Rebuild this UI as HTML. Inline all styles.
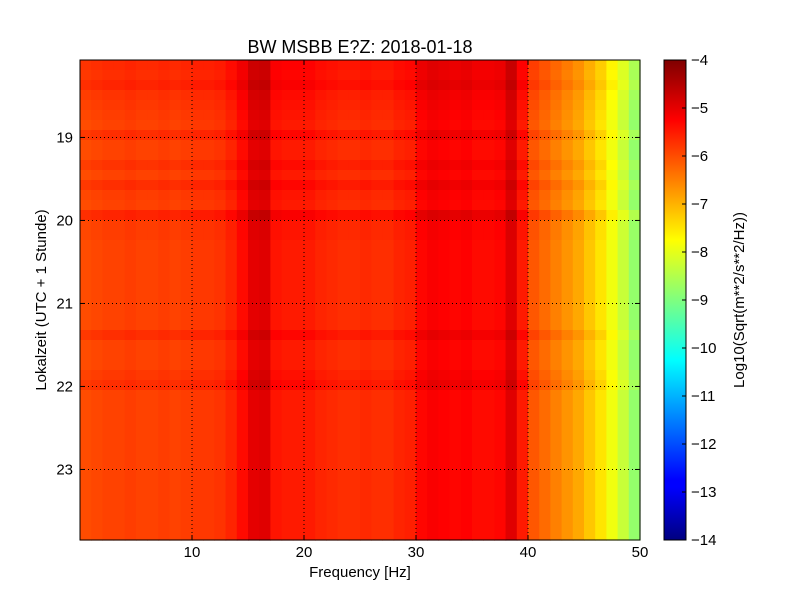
<!DOCTYPE html>
<html><head><meta charset="utf-8"><style>
body{margin:0;background:#fff}
svg{display:block;font-family:"Liberation Sans",sans-serif}
</style></head><body>
<svg id="c" width="800" height="600" xmlns="http://www.w3.org/2000/svg">
<rect width="800" height="600" fill="#fff"/>
<text x="360" y="53" font-size="18" text-anchor="middle">BW MSBB E?Z: 2018-01-18</text>
<g id="cells"></g>
<g id="grid"></g>
<rect x="80" y="60" width="560" height="480" fill="none" stroke="#000"/>
<g id="xt"></g>
<g id="yt"></g>
<text x="360" y="577" font-size="15" text-anchor="middle">Frequency [Hz]</text>
<text transform="translate(46,300) rotate(-90)" font-size="15" text-anchor="middle">Lokalzeit (UTC + 1 Stunde)</text>
<defs><linearGradient id="jet" x1="0" y1="1" x2="0" y2="0">
<stop offset="0" stop-color="#00007f"/><stop offset="0.11" stop-color="#0000ff"/><stop offset="0.125" stop-color="#0000ff"/>
<stop offset="0.375" stop-color="#00ffff"/><stop offset="0.5" stop-color="#7fff7f"/><stop offset="0.625" stop-color="#ffff00"/>
<stop offset="0.875" stop-color="#ff0000"/><stop offset="1" stop-color="#7f0000"/></linearGradient></defs>
<rect x="664" y="60" width="22" height="480" fill="url(#jet)" stroke="#000"/>
<g id="ct"></g>
<text transform="translate(744,300) rotate(-90)" font-size="15" text-anchor="middle">Log10(Sqrt(m**2/s**2/Hz))</text>
</svg>
<script>
const freqProfile=[-6.0,-5.95,-5.9,-5.9,-5.85,-5.9,-5.9,-5.85,-5.9,-5.85,-5.8,-5.8,-5.75,-5.6,-5.35,-5.0,-4.95,-5.45,-5.5,-5.5,-5.5,-5.6,-5.65,-5.7,-5.7,-5.65,-5.7,-5.7,-5.6,-5.55,-5.3,-5.2,-5.25,-5.3,-5.25,-5.35,-5.35,-5.3,-4.95,-5.5,-6.1,-6.3,-6.5,-6.7,-6.9,-7.2,-7.5,-7.9,-8.3,-8.8];
const rowOffset=[0.25,0.2,0.3,0.15,0.1,0.05,0,0.2,0,0,0.15,0,0.2,0.05,0,0.3,0.05,0.05,0,0,0,0,0,0,0,0,0,0.2,0,0,0,0.1,0.2,0,0,0,0,0,0,0,0,0,0,0,0,0,0,0];
const xTicks=[10,20,30,40,50];
const yTicks=[19,20,21,22,23];
const cTicks=[-4,-5,-6,-7,-8,-9,-10,-11,-12,-13,-14];
const NS='http://www.w3.org/2000/svg';
const x0=80,x1=640,y0=60,y1=540;
const tStart=18.067,tEnd=23.85;
const xs=f=>x0+(f/50)*(x1-x0);
const ys=t=>y0+(t-tStart)/(tEnd-tStart)*(y1-y0);
const cs=v=>y0+(-4-v)/10*(y1-y0);
function jet(v){let n=Math.max(0,Math.min(1,(v+14)/10));
 const c=x=>Math.max(0,Math.min(1,x));
 const r=c(Math.min(4*n-1.5,-4*n+4.5)),g=c(Math.min(4*n-0.5,-4*n+3.5)),b=c(Math.min(4*n+0.5,-4*n+2.5));
 return `rgb(${Math.round(r*255)},${Math.round(g*255)},${Math.round(b*255)})`;}
function el(tag,a,p){const e=document.createElementNS(NS,tag);for(const k in a)e.setAttribute(k,a[k]);p.appendChild(e);return e;}
const cells=document.getElementById('cells');
const rh=(y1-y0)/rowOffset.length, cw=(x1-x0)/freqProfile.length;
rowOffset.forEach((o,r)=>{freqProfile.forEach((v,i)=>{
 const e=el('rect',{x:(xs(i*50/freqProfile.length)).toFixed(2),y:(y0+r*rh).toFixed(2),width:(cw+0.6).toFixed(2),height:(rh+0.6).toFixed(2),fill:jet(v+o)},cells);
 
 
});});
const grid=document.getElementById('grid'),xt=document.getElementById('xt'),yt=document.getElementById('yt'),ct=document.getElementById('ct');
xTicks.forEach(f=>{const x=xs(f);
 el('line',{x1:x,x2:x,y1:y0,y2:y1,stroke:'#000','stroke-dasharray':'1,3','stroke-width':1},grid);
 el('line',{x1:x,x2:x,y1:y1,y2:y1-5,stroke:'#000'},xt);el('line',{x1:x,x2:x,y1:y0,y2:y0+5,stroke:'#000'},xt);
 const t=el('text',{x:x,y:557,'font-size':15,'text-anchor':'middle'},xt);t.textContent=f;
 
 });
yTicks.forEach(h=>{const y=ys(h);
 el('line',{x1:x0,x2:x1,y1:y,y2:y,stroke:'#000','stroke-dasharray':'1,3','stroke-width':1},grid);
 el('line',{x1:x0,x2:x0+5,y1:y,y2:y,stroke:'#000'},yt);el('line',{x1:x1,x2:x1-5,y1:y,y2:y,stroke:'#000'},yt);
 const t=el('text',{x:73,y:y+5,'font-size':15,'text-anchor':'end'},yt);t.textContent=h;
 
 });
cTicks.forEach(v=>{const y=cs(v);
 el('line',{x1:682,x2:686,y1:y,y2:y,stroke:'#000'},ct);
 const t=el('text',{x:691,y:y+5,'font-size':15},ct);t.textContent=String(v).replace('-','\u2212');
 
 });
</script>
</body></html>
